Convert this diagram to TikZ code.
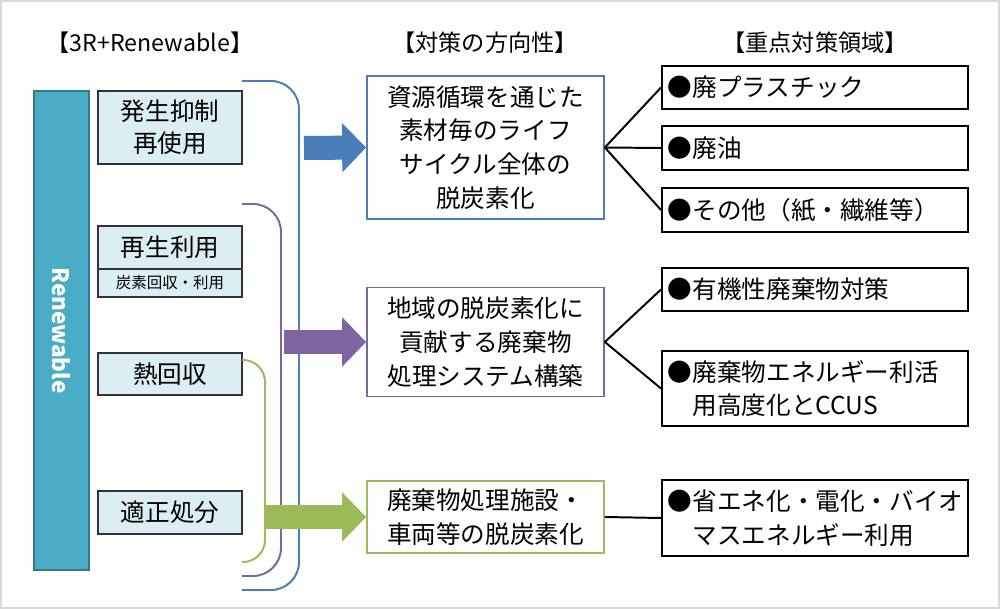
\documentclass[tikz,border=0pt]{standalone}
\usepackage{fontspec}
\setmainfont{Noto Sans CJK JP}
\usetikzlibrary{arrows.meta}
\definecolor{rblue}{HTML}{4A7EBB}
\definecolor{rpurple}{HTML}{8064A2}
\definecolor{rgreen}{HTML}{9BBB59}
\definecolor{rteal}{HTML}{4BACC6}
\definecolor{rfill}{HTML}{DBEEF4}
\tikzset{
  lbox/.style={draw=black!80, line width=1.6pt, fill=rfill, minimum width=3.6cm, minimum height=#1, inner sep=0pt, align=center, font=\fontsize{17.5}{23}\selectfont},
  mbox/.style={draw=#1, line width=1.2pt, fill=white, minimum width=5.925cm, inner sep=0pt, align=center, font=\fontsize{17.5}{24}\selectfont},
  rbox/.style={draw=black, line width=1.4pt, minimum width=7.65cm, minimum height=#1, inner sep=0pt, text width=7.35cm, align=left, font=\fontsize{17.5}{24}\selectfont},
  bracket/.style={draw=#1, line width=1.4pt, rounded corners=0.7cm},
  bigarrow/.style={draw=#1, line width=0.6cm, -{Triangle[width=1.2cm,length=0.6cm]}},
  head/.style={font=\fontsize{16.5}{18}\selectfont},
}
\begin{document}
\begin{tikzpicture}[x=0.025cm,y=-0.025cm]
  \useasboundingbox (0,0) rectangle (1000,609);
  \draw[black!15, line width=1pt] (1,1) rectangle (999,608);
  % headings
  \node[head] (h1) at (150,43) {【3R+Renewable】};
  \node[head] (h2) at (485,43) {【対策の方向性】};
  \node[head] (h3) at (815,43) {【重点対策領域】};
  % left column
  \node[draw=rteal!70!black, line width=1pt, fill=rteal, minimum width=11.975cm, minimum height=1.375cm, inner sep=0pt,
        rotate=-90, text=white, font=\bfseries\fontsize{16}{18}\selectfont] (ren) at (61.5,330.5) {Renewable};
  \node[lbox=1.825cm] (l1) at (170,127.5) {発生抑制\\再使用};
  \node[lbox=1.075cm] (l2) at (170,247.5) {再生利用};
  \node[lbox=0.7cm, font=\fontsize{11}{13}\selectfont] (l3) at (170,283) {炭素回収・利用};
  \node[lbox=1.05cm] (l4) at (170,374) {熱回収};
  \node[lbox=1.075cm] (l5) at (170,512.5) {適正処分};
  % brackets
  \draw[bracket=rblue] (242,81) -- (299,81) -- (299,590) -- (242,590);
  \draw[bracket=rpurple] (242,204) -- (281,204) -- (281,576) -- (242,576);
  \draw[bracket=rgreen, rounded corners=0.55cm] (242,360) -- (265,360) -- (265,562) -- (242,562);
  % middle column
  \node[mbox=rblue, minimum height=3.575cm] (m1) at (485.5,147.5) {資源循環を通じた\\素材毎のライフ\\サイクル全体の\\脱炭素化};
  \node[mbox=rpurple, minimum height=2.725cm] (m2) at (485.5,342) {地域の脱炭素化に\\貢献する廃棄物\\処理システム構築};
  \node[mbox=rgreen, minimum height=1.8cm] (m3) at (485.5,517) {廃棄物処理施設・\\車両等の脱炭素化};
  \coordinate (a1) at (304,148);
  \coordinate (a2) at (284,342);
  \coordinate (a3) at (266,517);
  \draw[bigarrow=rblue] (a1) -- (m1.west);
  \draw[bigarrow=rpurple] (a2) -- (m2.west);
  \draw[bigarrow=rgreen] (a3) -- (m3.west);
  % right column
  \node[rbox=1.075cm, anchor=west] (r1) at (661,87.5) {●廃プラスチック};
  \node[rbox=1.1cm, anchor=west] (r2) at (661,148) {●廃油};
  \node[rbox=1.1cm, anchor=west] (r3) at (661,210) {●その他（紙・繊維等）};
  \node[rbox=1.075cm, anchor=west] (r4) at (661,289.5) {●有機性廃棄物対策};
  \node[rbox=1.875cm, anchor=west] (r5) at (661,388.5) {●廃棄物エネルギー利活\\\hspace*{1em}用高度化とCCUS};
  \node[rbox=1.9cm, anchor=west] (r6) at (661,518) {●省エネ化・電化・バイオ\\\hspace*{1em}マスエネルギー利用};
  \foreach \r in {r1,r2,r3} \draw[line width=1.4pt] (m1.east) -- (\r.west);
  \foreach \r in {r4,r5} \draw[line width=1.4pt] (m2.east) -- (\r.west);
  \draw[line width=1.4pt] (m3.east) -- (r6.west);
\end{tikzpicture}
\end{document}
